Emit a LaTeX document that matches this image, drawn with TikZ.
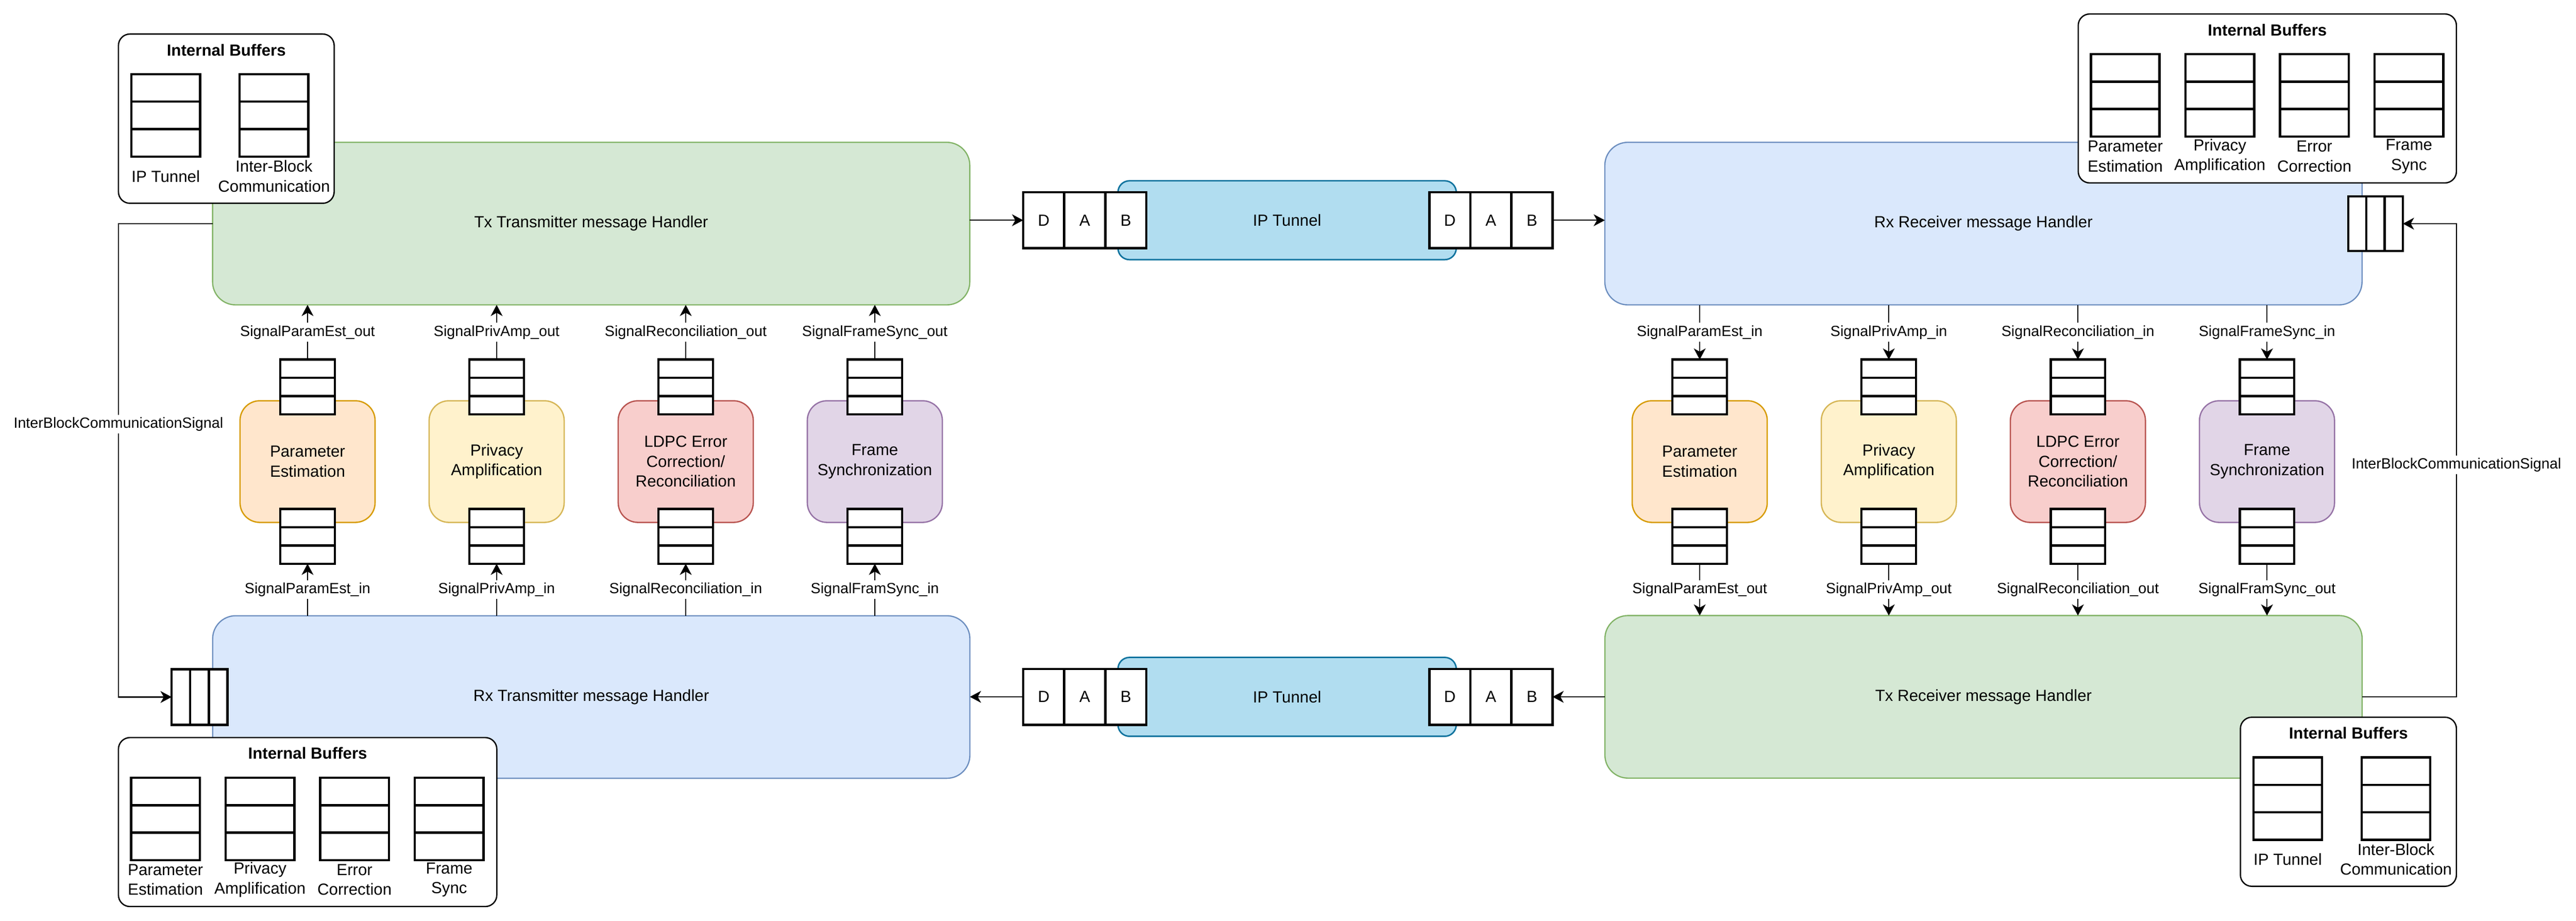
\documentclass[tikz,border=0pt]{standalone}
\usepackage{fontspec}
\setmainfont{Liberation Sans}
\usetikzlibrary{arrows.meta,calc}
\definecolor{gfill}{HTML}{D5E8D4}\definecolor{gline}{HTML}{82B366}
\definecolor{bfill}{HTML}{DAE8FC}\definecolor{bline}{HTML}{6C8EBF}
\definecolor{ofill}{HTML}{FFE6CC}\definecolor{oline}{HTML}{D79B00}
\definecolor{yfill}{HTML}{FFF2CC}\definecolor{yline}{HTML}{D6B656}
\definecolor{rfill}{HTML}{F8CECC}\definecolor{rline}{HTML}{B85450}
\definecolor{pfill}{HTML}{E1D5E7}\definecolor{pline}{HTML}{9673A6}
\definecolor{tfill}{HTML}{B1DDF0}\definecolor{tline}{HTML}{10739E}
\tikzset{
  txt/.style={font=\fontsize{9.8}{12.1}\selectfont, align=center, outer sep=0pt},
  handler/.style={txt, rounded corners=14pt, line width=0.75pt, minimum width=460.9, minimum height=98.9, inner sep=0pt},
  tunnel/.style={txt, draw=tline, fill=tfill, rounded corners=7pt, line width=0.9pt, minimum width=205.9, minimum height=48, inner sep=0pt},
  proc/.style={txt, rounded corners=12pt, line width=0.8pt, minimum width=82.2, minimum height=74, inner sep=0pt},
  cell/.style={txt, draw, fill=white, line width=1.4pt, inner sep=0pt},
  ibox/.style={draw, fill=white, rounded corners=7pt, line width=0.8pt, inner sep=0pt, outer sep=0pt, anchor=north west},
  ibtitle/.style={font=\fontsize{9.8}{12.1}\selectfont\bfseries, inner sep=0pt},
  lbl/.style={font=\fontsize{9}{11}\selectfont, fill=white, inner sep=1.5pt},
  conn/.style={line width=0.7pt, -{Stealth[length=6.8pt,width=7.2pt,inset=2pt]}},
}
% vertical buffer: name, centre x, top y, width, height
\newcommand\vbuffer[5]{%
  \foreach \k in {1,2,3}{%
    \node[cell, minimum width=#4, minimum height=#5/3] (#1-\k) at (#2, {#3+(\k-0.5)*#5/3}) {};
  }}
% horizontal buffer: name, left x, centre y, cell width, height, texts
\newcommand\hbuffer[6]{%
  \foreach \t [count=\k] in {#6}{%
    \node[cell, minimum width=#4, minimum height=#5] (#1-\k) at ({#2+(\k-0.5)*#4}, #3) {\t};
  }}
\begin{document}
\begin{tikzpicture}[x=1pt, y=-1pt]
\useasboundingbox (0,0) rectangle (1568,560.2);

% IP tunnels
\node[tunnel] (TT) at (783.45,134) {IP Tunnel};
\node[tunnel] (BT) at (783.45,424) {IP Tunnel};
\hbuffer{TLd}{622.8}{134}{25}{34}{D,A,B}
\hbuffer{TRd}{870}{134}{25}{34}{D,A,B}
\hbuffer{BLd}{622.8}{424}{25}{34}{D,A,B}
\hbuffer{BRd}{870}{424}{25}{34}{D,A,B}

% message handlers
\node[handler, draw=gline, fill=gfill] (TxT) at (359.85,136.05) {Tx Transmitter message Handler};
\node[handler, draw=bline, fill=bfill] (RxT) at (359.9,424.1) {Rx Transmitter message Handler};
\node[handler, draw=bline, fill=bfill] (RxR) at (1207.3,136.05) {Rx Receiver message Handler};
\node[handler, draw=gline, fill=gfill] (TxR) at (1207.35,424) {Tx Receiver message Handler};

% internal buffers: top left
\node[ibox, minimum width=131.3, minimum height=103] (ibTL) at (72.1,20.7) {};
\node[ibtitle] (ibTLt) at (137.75,30.4) {Internal Buffers};
\vbuffer{ibTLa}{100.9}{45.1}{41.8}{50.2}
\vbuffer{ibTLb}{166.8}{45.1}{41.8}{50.2}
\node[txt] (ibTLla) at (100.9,107.2) {IP Tunnel};
\node[txt] (ibTLlb) at (166.8,107.2) {Inter-Block\\Communication};

% internal buffers: top right
\node[ibox, minimum width=230.2, minimum height=102.8] (ibTR) at (1265,8.5) {};
\node[ibtitle] (ibTRt) at (1380.1,18.2) {Internal Buffers};
\vbuffer{ibTRa}{1293.6}{32.9}{41.8}{50.2}
\vbuffer{ibTRb}{1351.2}{32.9}{41.8}{50.2}
\vbuffer{ibTRc}{1408.7}{32.9}{41.8}{50.2}
\vbuffer{ibTRd}{1466.3}{32.9}{41.8}{50.2}
\node[txt] (ibTRla) at (1293.6,95.1) {Parameter\\Estimation};
\node[txt] (ibTRlb) at (1351.2,95.1) {Privacy\\Amplification};
\node[txt] (ibTRlc) at (1408.7,95.1) {Error\\Correction};
\node[txt] (ibTRld) at (1466.3,95.1) {Frame\\Sync};

% internal buffers: bottom left
\node[ibox, minimum width=230.3, minimum height=102.8] (ibBL) at (72.1,448.8) {};
\node[ibtitle] (ibBLt) at (187.25,458.3) {Internal Buffers};
\vbuffer{ibBLa}{100.7}{473.2}{41.8}{50.2}
\vbuffer{ibBLb}{158.3}{473.2}{41.8}{50.2}
\vbuffer{ibBLc}{215.8}{473.2}{41.8}{50.2}
\vbuffer{ibBLd}{273.4}{473.2}{41.8}{50.2}
\node[txt] (ibBLla) at (100.7,535.3) {Parameter\\Estimation};
\node[txt] (ibBLlb) at (158.3,535.3) {Privacy\\Amplification};
\node[txt] (ibBLlc) at (215.8,535.3) {Error\\Correction};
\node[txt] (ibBLld) at (273.4,535.3) {Frame\\Sync};

% internal buffers: bottom right
\node[ibox, minimum width=131.5, minimum height=102.9] (ibBR) at (1363.7,436.4) {};
\node[ibtitle] (ibBRt) at (1429.45,445.9) {Internal Buffers};
\vbuffer{ibBRa}{1392.5}{460.8}{41.8}{50.2}
\vbuffer{ibBRb}{1458.4}{460.8}{41.8}{50.2}
\node[txt] (ibBRla) at (1392.5,522.9) {IP Tunnel};
\node[txt] (ibBRlb) at (1458.4,522.9) {Inter-Block\\Communication};

% side buffers of the receiving handlers
\hbuffer{LhB}{104.5}{424.1}{11.3}{33.8}{{},{},{}}
\hbuffer{RhB}{1429.3}{136.1}{11.1}{33.3}{{},{},{}}

% processing blocks, left
\node[proc, draw=oline, fill=ofill] (Lpe) at (187.2,280.85) {Parameter\\Estimation};
\node[proc, draw=yline, fill=yfill] (Lpa) at (302.3,280.85) {Privacy\\Amplification};
\node[proc, draw=rline, fill=rfill] (Lec) at (417.4,280.85) {LDPC Error\\Correction/\\Reconciliation};
\node[proc, draw=pline, fill=pfill] (Lfs) at (532.5,280.85) {Frame\\Synchronization};
% processing blocks, right
\node[proc, draw=oline, fill=ofill] (Rpe) at (1034.6,280.85) {Parameter\\Estimation};
\node[proc, draw=yline, fill=yfill] (Rpa) at (1149.7,280.85) {Privacy\\Amplification};
\node[proc, draw=rline, fill=rfill] (Rec) at (1264.8,280.85) {LDPC Error\\Correction/\\Reconciliation};
\node[proc, draw=pline, fill=pfill] (Rfs) at (1379.9,280.85) {Frame\\Synchronization};

\foreach \i/\x in {1/187.2,2/302.3,3/417.4,4/532.5}{%
  \vbuffer{LbT\i}{\x}{218.8}{33.2}{33.4}
  \vbuffer{LbB\i}{\x}{309.6}{33.2}{33.4}
}
\foreach \i/\x in {1/1034.6,2/1149.7,3/1264.8,4/1379.9}{%
  \vbuffer{RbT\i}{\x}{218.8}{33.2}{33.4}
  \vbuffer{RbB\i}{\x}{309.6}{33.2}{33.4}
}

% signal connectors, left
\foreach \i/\tl/\bl in {1/SignalParamEst\_out/SignalParamEst\_in,
  2/SignalPrivAmp\_out/SignalPrivAmp\_in,
  3/SignalReconciliation\_out/SignalReconciliation\_in,
  4/SignalFrameSync\_out/SignalFramSync\_in}{%
  \draw[conn] (LbT\i-1.north) -- (LbT\i-1.north |- TxT.south) node[lbl, midway] (LlT\i) {\tl};
  \draw[conn] (LbB\i-3.south |- RxT.north) -- (LbB\i-3.south) node[lbl, midway] (LlB\i) {\bl};
}
% signal connectors, right
\foreach \i/\tl/\bl in {1/SignalParamEst\_in/SignalParamEst\_out,
  2/SignalPrivAmp\_in/SignalPrivAmp\_out,
  3/SignalReconciliation\_in/SignalReconciliation\_out,
  4/SignalFrameSync\_in/SignalFramSync\_out}{%
  \draw[conn] (RbT\i-1.north |- RxR.south) -- (RbT\i-1.north) node[lbl, midway] (RlT\i) {\tl};
  \draw[conn] (RbB\i-3.south) -- (RbB\i-3.south |- TxR.north) node[lbl, midway] (RlB\i) {\bl};
}

% tunnel connectors
\draw[conn] (TxT.east |- TLd-1.west) -- (TLd-1.west);
\draw[conn] (TRd-3.east) -- (TRd-3.east -| RxR.west);
\draw[conn] (BLd-1.west) -- (BLd-1.west -| RxT.east);
\draw[conn] (TxR.west |- BRd-3.east) -- (BRd-3.east);

% inter-block communication
\draw[conn] (TxT.west) -- (TxT.west -| ibTL.west) |- (LhB-1.west)
  node[lbl, pos=0.212] (ibsL) {InterBlockCommunicationSignal};
\draw[conn] (TxR.east) -- (TxR.east -| ibBR.east) |- (RhB-3.east)
  node[lbl, pos=0.245] (ibsR) {InterBlockCommunicationSignal};
\end{tikzpicture}
\end{document}
